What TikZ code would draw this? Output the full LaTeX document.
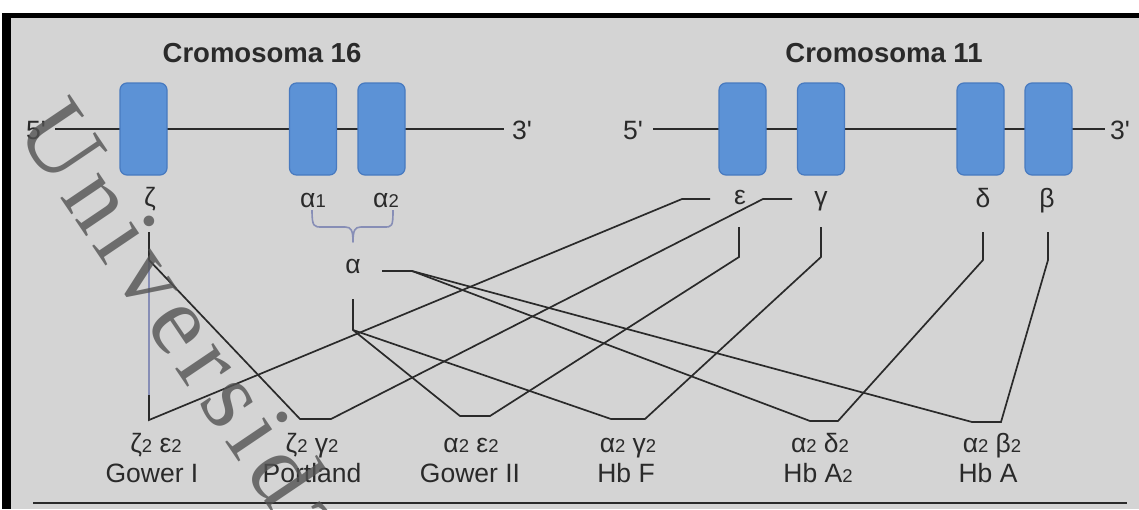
\documentclass[tikz,border=0pt]{standalone}
\usepackage{fontspec}
\setmainfont{Liberation Sans}
\newfontfamily\plainsans{Liberation Sans}
\newfontfamily\wmfont{Liberation Serif}[LetterSpace=8.5]
\definecolor{bg}{RGB}{212,212,212}
\definecolor{ink}{RGB}{42,42,42}
\definecolor{gene}{RGB}{92,146,214}
\definecolor{genedge}{RGB}{72,122,192}
\definecolor{bracecol}{RGB}{135,142,182}
\definecolor{wm}{RGB}{82,82,82}
\newcommand\dg[1]{{\fontsize{18.5}{20}\selectfont #1}}
\begin{document}
\begin{tikzpicture}[x=1pt,y=-1pt,
  genebox/.style={draw=genedge,fill=gene,line width=1.2pt,rounded corners=7pt,
    minimum width=47pt,minimum height=92pt,inner sep=0pt},
  lbl/.style={text=ink,font=\fontsize{26.5}{30}\selectfont,inner sep=0pt,anchor=base},
  endlbl/.style={text=ink,font=\plainsans\fontsize{26.5}{30}\selectfont,inner sep=0pt,anchor=base},
  ttl/.style={text=ink,font=\fontsize{27.5}{30}\selectfont\bfseries,inner sep=0pt,anchor=base},
  wire/.style={draw=ink,line width=1.7pt,line join=miter},
  dna/.style={draw=ink,line width=1.8pt},
  soft/.style={draw=bracecol,line width=1.6pt}]
\useasboundingbox (0,0) rectangle (1139,509);
% frame
\fill[white] (0,0) rectangle (1139,509);
\fill[black] (2,13) rectangle (1139,509);
\fill[bg] (11,18) rectangle (1139,509);

% titles
\node[ttl] (t16) at (262,62) {Cromosoma 16};
\node[ttl] (t11) at (884,62) {Cromosoma 11};

% chromosome 16 axis
\node[endlbl] (c16l) at (36,139) {5'};
\node[endlbl] (c16r) at (522,139) {3'};
\coordinate (c16a) at (55,129);
\coordinate (c16b) at (504,129);
\draw[dna] (c16a) -- (c16b);
\node[genebox] (gz) at (143.5,129) {};
\node[genebox] (ga1) at (313,129) {};
\node[genebox] (ga2) at (381.5,129) {};

% chromosome 11 axis
\node[endlbl] (c11l) at (633,139) {5'};
\node[endlbl] (c11r) at (1120,139) {3'};
\coordinate (c11a) at (653,129);
\coordinate (c11b) at (1105,129);
\draw[dna] (c11a) -- (c11b);
\node[genebox] (ge) at (742.5,129) {};
\node[genebox] (gg) at (821,129) {};
\node[genebox] (gd) at (980.5,129) {};
\node[genebox] (gb) at (1048.5,129) {};

% gene names
\node[lbl] (lz) at (150,206) {ζ};
\node[lbl] (la1) at (313,207) {α\dg{1}};
\node[lbl] (la2) at (386,207) {α\dg{2}};
\node[lbl] (le) at (740,204) {ε};
\node[lbl] (lg) at (821,205) {γ};
\node[lbl] (ld) at (983,207) {δ};
\node[lbl] (lb) at (1047,207) {β};
\node[lbl] (la) at (353,273) {α};

% brace joining the two alpha genes
\coordinate (brL) at (312,210);
\coordinate (brR) at (393,210);
\coordinate (brT) at (353,242);
\draw[soft,line join=round] (brL) .. controls (312,227) and (314,227) .. (322,227)
  -- (345,227) .. controls (351,227) and (353,230) .. (brT)
  .. controls (353,230) and (355,227) .. (361,227) -- (384,227)
  .. controls (392,227) and (393,227) .. (brR);

% hemoglobin labels
\node[lbl] (h1a) at (156,452) {ζ\dg{2} ε\dg{2}};
\node[lbl] (h1b) at (152,482) {Gower I};
\node[lbl] (h2a) at (312,452) {ζ\dg{2} γ\dg{2}};
\node[lbl] (h2b) at (312,482) {Portland};
\node[lbl] (h3a) at (471,452) {α\dg{2} ε\dg{2}};
\node[lbl] (h3b) at (470,482) {Gower II};
\node[lbl] (h4a) at (628,452) {α\dg{2} γ\dg{2}};
\node[lbl] (h4b) at (626,482) {Hb F};
\node[lbl] (h5a) at (820,452) {α\dg{2} δ\dg{2}};
\node[lbl] (h5b) at (818,482) {Hb A\dg{2}};
\node[lbl] (h6a) at (992,452) {α\dg{2} β\dg{2}};
\node[lbl] (h6b) at (988,482) {Hb A};

% connector joints
\coordinate (zT) at (149,232);
\coordinate (zB) at (149,260);
\coordinate (zL) at (149,395);
\coordinate (gI) at (149,420);
\coordinate (eL2) at (682,199);
\coordinate (eL1) at (710,199);
\coordinate (pA) at (300,419);
\coordinate (pB) at (331,419);
\coordinate (gL2) at (763,199);
\coordinate (gL1) at (792,199);
\coordinate (aR1) at (382,271);
\coordinate (aR2) at (412,271);
\coordinate (aV1) at (353,299);
\coordinate (aV2) at (353,330);
\coordinate (g2A) at (460,416);
\coordinate (g2B) at (490,416);
\coordinate (fA) at (611,419);
\coordinate (fB) at (645,419);
\coordinate (dA) at (810,421);
\coordinate (dB) at (838,421);
\coordinate (bA) at (972,422);
\coordinate (bB) at (1001,422);
\coordinate (eV1) at (739,227);
\coordinate (eV2) at (739,257);
\coordinate (gV1) at (821,227);
\coordinate (gV2) at (821,257);
\coordinate (dV1) at (983,232);
\coordinate (dV2) at (983,260);
\coordinate (bV1) at (1048,232);
\coordinate (bV2) at (1048,260);

% zeta chains
\draw[wire] (zT) -- (zB);
\draw[soft] (zB) -- (zL);
\draw[wire] (zL) -- (gI) -- (eL2) -- (eL1);
\draw[wire] (zB) -- (pA) -- (pB) -- (gL2) -- (gL1);
% alpha chains
\draw[wire] (aR1) -- (aR2) -- (dA) -- (dB) -- (dV2) -- (dV1);
\draw[wire] (aR2) -- (bA) -- (bB) -- (bV2) -- (bV1);
\draw[wire] (aV1) -- (aV2) -- (g2A) -- (g2B) -- (eV2) -- (eV1);
\draw[wire] (aV2) -- (fA) -- (fB) -- (gV2) -- (gV1);

% rule under the labels
\coordinate (rl) at (33,503);
\coordinate (rr) at (1127,503);
\draw[ink,line width=2.2pt] (rl) -- (rr);

% watermark
\begin{scope}
\clip (0,0) rectangle (1139,509);
\node[anchor=base west,inner sep=0pt,rotate=-56,text=wm,text opacity=0.8,
  font=\wmfont\fontsize{100}{100}\selectfont] (wmk) at (14,129) {Universidad};
\end{scope}
\end{tikzpicture}
\end{document}
